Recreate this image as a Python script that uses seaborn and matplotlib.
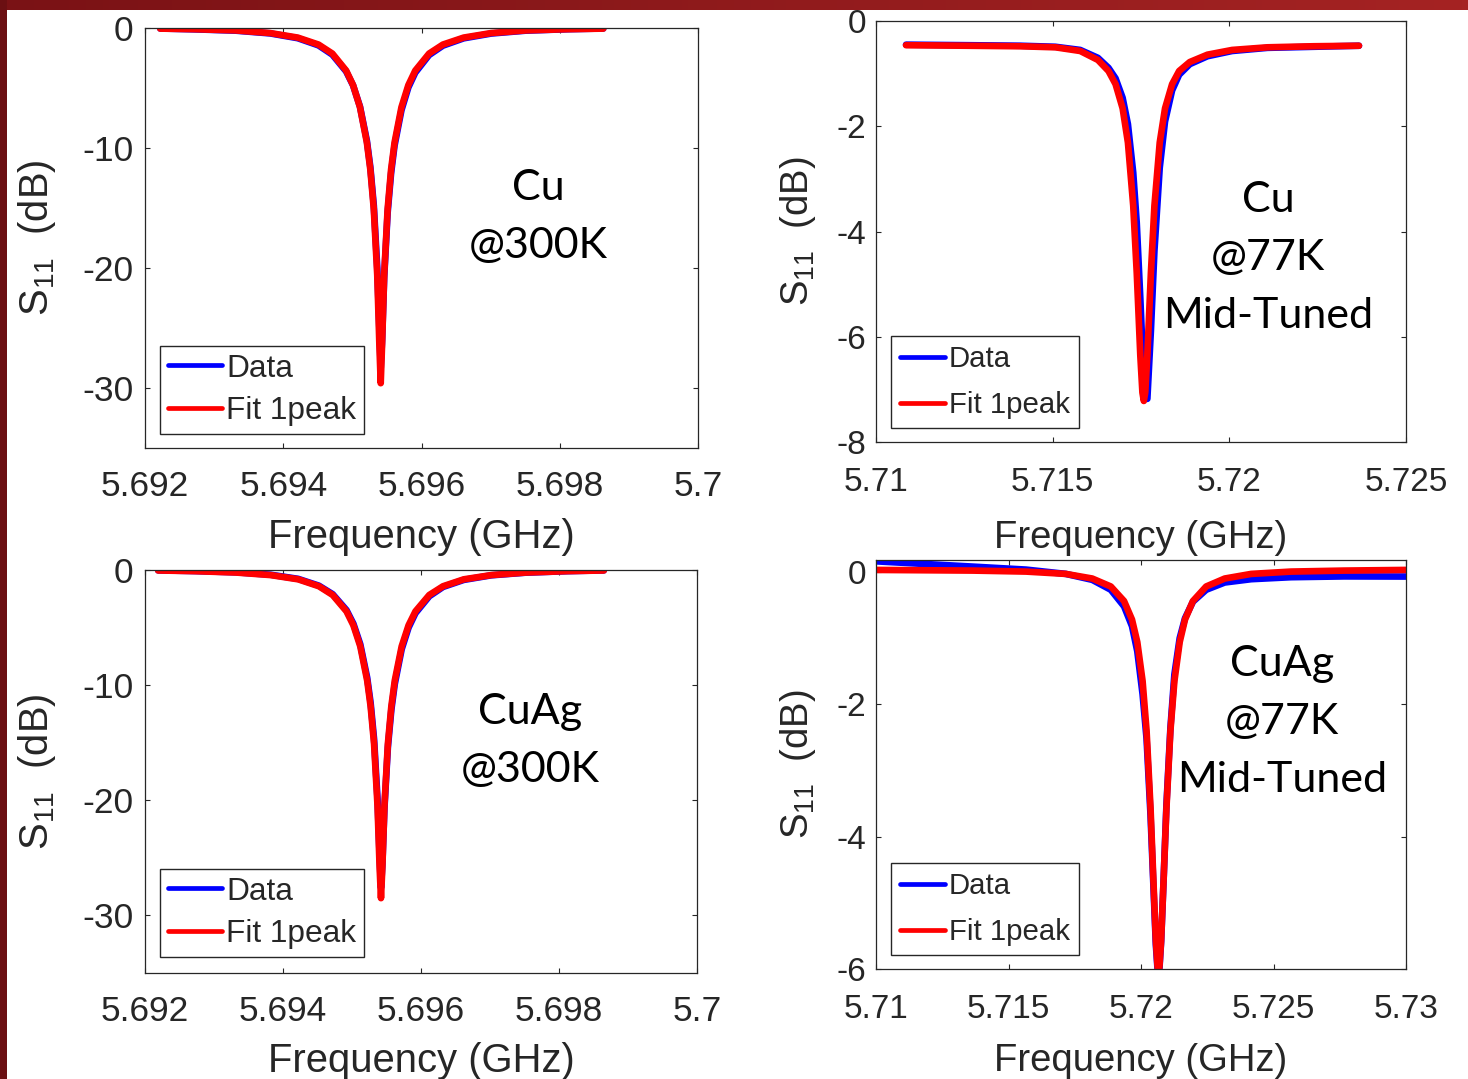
#!/usr/bin/env python3
"""Four S11 resonance panels (Cu / CuAg at 300 K and 77 K), data vs single-peak fit."""

import matplotlib
matplotlib.use("Agg")

import matplotlib.pyplot as plt
import numpy as np
import pandas as pd
import seaborn as sns
from matplotlib.colors import LinearSegmentedColormap


OUTPUT_PATH = "out.png"
FIG_W, FIG_H = 1468, 1079

# ---- values: frequency (GHz), S11 (dB) ----
CU300_FREQ = [5.69222, 5.69271, 5.69331, 5.69381, 5.69421, 5.69451, 5.69471, 5.69491,
              5.69501, 5.69511, 5.69521, 5.69526, 5.69531, 5.69536, 5.69539, 5.69541,
              5.69543, 5.69546, 5.69551, 5.69556, 5.69561, 5.69571, 5.69581, 5.69591,
              5.69611, 5.69631, 5.69661, 5.69701, 5.69751, 5.69811, 5.69863]
CU300_DATA = [-0.04, -0.11, -0.22, -0.45, -0.85, -1.45, -2.22, -3.62, -4.78, -6.55, -9.40,
              -11.6, -14.8, -20.0, -25.0, -28.3, -26.0, -20.8, -15.4, -12.1, -9.80, -6.85,
              -4.95, -3.72, -2.25, -1.47, -0.86, -0.46, -0.22, -0.10, -0.04]
CU300_FIT = [-0.05, -0.10, -0.20, -0.42, -0.80, -1.38, -2.13, -3.55, -4.76, -6.60, -9.55,
             -11.8, -15.1, -20.6, -26.3, -29.6, -26.3, -20.6, -15.1, -11.8, -9.55, -6.60,
             -4.76, -3.55, -2.13, -1.38, -0.80, -0.42, -0.20, -0.10, -0.05]

CU77_FREQ = [5.71085, 5.71258, 5.71408, 5.71508, 5.71578, 5.71628, 5.71658, 5.71678,
             5.71698, 5.71713, 5.71728, 5.71738, 5.71748, 5.71754, 5.71758, 5.71762,
             5.71768, 5.71778, 5.71788, 5.71803, 5.71818, 5.71838, 5.71858, 5.71888,
             5.71938, 5.72008, 5.72108, 5.72238, 5.72367]
CU77_DATA = [-0.45, -0.46, -0.47, -0.49, -0.55, -0.70, -0.89, -1.09, -1.46, -1.96, -2.88,
             -3.84, -5.26, -6.20, -6.75, -7.18, -7.18, -5.89, -4.37, -2.79, -1.91, -1.32,
             -1.02, -0.82, -0.67, -0.57, -0.51, -0.49, -0.47]
CU77_FIT = [-0.46, -0.47, -0.48, -0.50, -0.57, -0.74, -0.95, -1.20, -1.66, -2.31, -3.51,
            -4.79, -6.35, -7.06, -7.22, -7.06, -6.35, -4.79, -3.51, -2.31, -1.66, -1.20,
            -0.95, -0.78, -0.64, -0.55, -0.50, -0.48, -0.47]

CUAG300_FREQ = [5.69219, 5.69272, 5.69332, 5.69382, 5.69422, 5.69452, 5.69472, 5.69492,
                5.69502, 5.69512, 5.69522, 5.69527, 5.69532, 5.69537, 5.69540, 5.69542,
                5.69544, 5.69547, 5.69552, 5.69557, 5.69562, 5.69572, 5.69582, 5.69592,
                5.69612, 5.69632, 5.69662, 5.69702, 5.69752, 5.69812, 5.69865]
CUAG300_DATA = [-0.03, -0.09, -0.20, -0.41, -0.77, -1.36, -2.10, -3.48, -4.66, -6.45, -9.35,
                -11.55, -14.7, -19.9, -24.8, -27.6, -25.6, -20.7, -15.4, -12.15, -9.90, -6.88,
                -5.00, -3.75, -2.28, -1.47, -0.86, -0.46, -0.23, -0.10, -0.03]
CUAG300_FIT = [-0.04, -0.10, -0.22, -0.44, -0.81, -1.41, -2.17, -3.59, -4.80, -6.63, -9.60,
               -11.85, -15.1, -20.5, -25.8, -28.5, -25.8, -20.5, -15.1, -11.85, -9.60, -6.63,
               -4.80, -3.59, -2.17, -1.41, -0.81, -0.44, -0.22, -0.10, -0.04]

CUAG77_FREQ = [5.71000, 5.71366, 5.71566, 5.71716, 5.71816, 5.71886, 5.71936, 5.71966,
               5.71986, 5.72006, 5.72021, 5.72036, 5.72046, 5.72056, 5.72062, 5.72066,
               5.72070, 5.72076, 5.72086, 5.72096, 5.72111, 5.72126, 5.72146, 5.72166,
               5.72196, 5.72246, 5.72316, 5.72416, 5.72566, 5.72766, 5.73000]
CUAG77_DATA = [0.16, 0.08, 0.035, -0.03, -0.12, -0.27, -0.52, -0.82, -1.20, -1.85, -2.52,
               -3.68, -4.66, -5.63, -5.98, -6.08, -5.97, -5.58, -4.58, -3.52, -2.36, -1.55,
               -1.00, -0.70, -0.45, -0.27, -0.16, -0.11, -0.08, -0.068, -0.07]
CUAG77_FIT = [0.03, 0.02, 0.005, -0.03, -0.10, -0.22, -0.44, -0.72, -1.06, -1.65, -2.40,
              -3.57, -4.58, -5.57, -5.94, -6.10, -5.94, -5.57, -4.58, -3.57, -2.40, -1.65,
              -1.06, -0.72, -0.44, -0.22, -0.10, -0.03, 0.005, 0.02, 0.03]

# axis ticks and labels
XTICKS_300 = [5.692, 5.694, 5.696, 5.698, 5.7]
XTICKLABELS_300 = ["5.692", "5.694", "5.696", "5.698", "5.7"]
XTICKS_CU77 = [5.71, 5.715, 5.72, 5.725]
XTICKLABELS_CU77 = ["5.71", "5.715", "5.72", "5.725"]
XTICKS_CUAG77 = [5.71, 5.715, 5.72, 5.725, 5.73]
XTICKLABELS_CUAG77 = ["5.71", "5.715", "5.72", "5.725", "5.73"]
YTICKS_300 = [0, -10, -20, -30]
YTICKS_CU77 = [0, -2, -4, -6, -8]
YTICKS_CUAG77 = [0, -2, -4, -6]

NOTE_CU300 = ["Cu", "@300K"]
NOTE_CU77 = ["Cu", "@77K", "Mid-Tuned"]
NOTE_CUAG300 = ["CuAg", "@300K"]
NOTE_CUAG77 = ["CuAg", "@77K", "Mid-Tuned"]

X_LABEL = "Frequency (GHz)"
Y_LABEL = "S$_{11}$  (dB)"
LEGEND_LABELS = ["Data", "Fit 1peak"]

INK = "#262626"
BLUE = "#0000ff"
RED = "#ff0000"


def px_rect(left, top, right, bottom):
    return [left / FIG_W, 1 - bottom / FIG_H, (right - left) / FIG_W, (bottom - top) / FIG_H]


def draw_panel(fig, p):
    ax = fig.add_axes(px_rect(*p["box"]))
    data = pd.DataFrame({"freq": p["freq"], "s11": p["data"]})
    fit = pd.DataFrame({"freq": p["freq"], "s11": p["fit"]})
    sns.lineplot(data=data, x="freq", y="s11", ax=ax, color=BLUE, linewidth=4.8,
                 estimator=None, sort=False, label=LEGEND_LABELS[0])
    sns.lineplot(data=fit, x="freq", y="s11", ax=ax, color=RED, linewidth=4.8,
                 estimator=None, sort=False, label=LEGEND_LABELS[1])

    ax.set_xlim(*p["xlim"])
    ax.set_ylim(*p["ylim"])
    ax.set_xticks(p["xticks"])
    ax.set_xticklabels(p["xticklabels"])
    ax.set_yticks(p["yticks"])
    ax.set_yticklabels([str(v) for v in p["yticks"]])
    ax.tick_params(direction="in", top=True, right=True, length=3.6, width=0.8,
                   color=INK, labelcolor=INK, labelsize=p["ticksize"])
    ax.tick_params(axis="x", pad=p["xpad"])
    ax.tick_params(axis="y", pad=p["ypad"])
    for spine in ax.spines.values():
        spine.set_visible(True)
        spine.set_color(INK)
        spine.set_linewidth(0.9)

    ax.set_xlabel(X_LABEL, fontsize=p["labelsize"], color=INK)
    ax.set_ylabel(Y_LABEL, fontsize=p["labelsize"], color=INK)
    ax.xaxis.set_label_coords(0.5, p["xlabel_y"])
    ax.yaxis.set_label_coords(p["ylabel_x"], 0.5)

    lx, ly = p["legend_at"]
    leg = ax.legend(loc="lower left", bbox_to_anchor=(lx / FIG_W, 1 - ly / FIG_H),
                    bbox_transform=fig.transFigure, borderaxespad=0, frameon=True,
                    fancybox=False, framealpha=1, edgecolor=INK, fontsize=p["legendsize"],
                    borderpad=p["legend_pad"], handlelength=p["handle_len"],
                    handletextpad=0.12, labelspacing=p["legend_gap"])
    leg.get_frame().set_linewidth(1.0)
    for handle in leg.get_lines():
        handle.set_linewidth(3.4)

    cx, cy = p["note_at"]
    fig.text(cx / FIG_W, 1 - cy / FIG_H, "\n".join(p["note"]), ha="center", va="center",
             fontsize=31, family=["Lato", "DejaVu Sans"], color="black", linespacing=1.65)
    return ax


def main():
    sns.set_style("ticks")
    plt.rcParams["font.family"] = ["Liberation Sans", "DejaVu Sans"]
    plt.rcParams["mathtext.default"] = "regular"
    plt.rcParams["axes.unicode_minus"] = False

    fig = plt.figure(figsize=(FIG_W / 100, FIG_H / 100), dpi=100, facecolor="white")

    left_style = dict(ticksize=25.5, labelsize=28.8, legendsize=22.8, xpad=16, ypad=8.5,
                      legend_pad=0.245, legend_gap=0.4, handle_len=1.72)
    right_style = dict(ticksize=24, labelsize=27.5, legendsize=21.2, xpad=18.3, ypad=7,
                       legend_pad=0.3, legend_gap=0.62, handle_len=1.55)

    panels = [
        dict(box=(145, 28, 698, 448), freq=CU300_FREQ, data=CU300_DATA, fit=CU300_FIT,
             xlim=(5.692, 5.7), ylim=(-35, 0), xticks=XTICKS_300, xticklabels=XTICKLABELS_300,
             yticks=YTICKS_300, note=NOTE_CU300, note_at=(538, 217), legend_at=(160, 434),
             xlabel_y=-0.167, ylabel_x=-0.157, **left_style),
        dict(box=(876, 21, 1406, 442), freq=CU77_FREQ, data=CU77_DATA, fit=CU77_FIT,
             xlim=(5.71, 5.725), ylim=(-8, 0), xticks=XTICKS_CU77, xticklabels=XTICKLABELS_CU77,
             yticks=YTICKS_CU77, note=NOTE_CU77, note_at=(1268, 258), legend_at=(891, 428),
             xlabel_y=-0.186, ylabel_x=-0.109, **right_style),
        dict(box=(145, 570, 697, 973), freq=CUAG300_FREQ, data=CUAG300_DATA, fit=CUAG300_FIT,
             xlim=(5.692, 5.7), ylim=(-35, 0), xticks=XTICKS_300, xticklabels=XTICKLABELS_300,
             yticks=YTICKS_300, note=NOTE_CUAG300, note_at=(530, 741), legend_at=(160, 957),
             xlabel_y=-0.171, ylabel_x=-0.157, **left_style),
        dict(box=(876, 560, 1406, 969), freq=CUAG77_FREQ, data=CUAG77_DATA, fit=CUAG77_FIT,
             xlim=(5.71, 5.73), ylim=(-6, 0.18), xticks=XTICKS_CUAG77,
             xticklabels=XTICKLABELS_CUAG77, yticks=YTICKS_CUAG77, note=NOTE_CUAG77,
             note_at=(1282, 722), legend_at=(891, 955), xlabel_y=-0.181, ylabel_x=-0.109,
             **right_style),
    ]
    for p in panels:
        draw_panel(fig, p)

    # slide frame: red band on top, dark red strip on the left
    band = fig.add_axes([0, 1 - 10 / FIG_H, 1, 10 / FIG_H])
    band.imshow(np.linspace(0, 1, 256)[None, :], aspect="auto",
                cmap=LinearSegmentedColormap.from_list("band", ["#7a1215", "#a52323"]))
    band.axis("off")
    fig.add_artist(plt.Rectangle((0, 0), 7 / FIG_W, 1, transform=fig.transFigure,
                                 facecolor="#6b0f12", edgecolor="none"))

    fig.savefig(OUTPUT_PATH, dpi=100, facecolor="white")
    plt.close(fig)


if __name__ == "__main__":
    main()
